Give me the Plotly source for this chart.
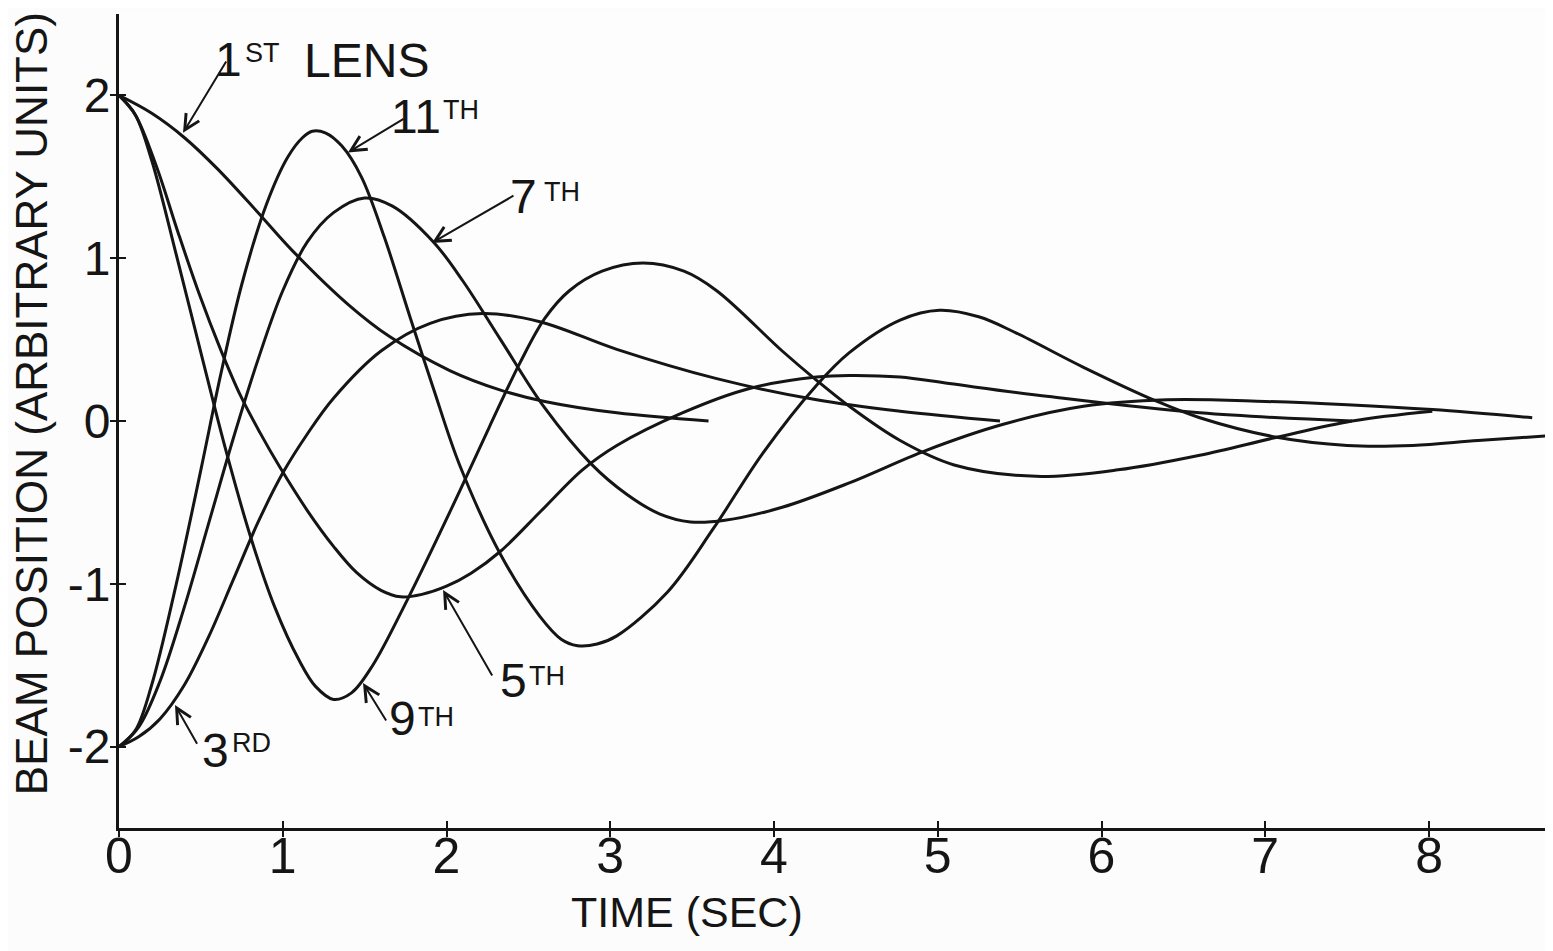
import plotly.graph_objects as go

# ---- data (time in sec, beam position in arbitrary units) ----
lens1_x = [0, 0.2, 0.4, 0.6, 0.84, 1.06, 1.4, 1.65, 2.02, 2.33, 2.6, 3.04, 3.6]
lens1_y = [2.0, 1.89, 1.74, 1.55, 1.29, 1.045, 0.715, 0.52, 0.31, 0.19, 0.12, 0.05, 0.0]

lens3_x = [0, 0.12, 0.25, 0.4, 0.55, 0.7, 0.85, 1.0, 1.15, 1.31, 1.6, 1.9, 2.22, 2.57, 3.04, 3.65, 4.26, 4.77, 5.38]
lens3_y = [-2.0, -1.94, -1.83, -1.62, -1.32, -0.97, -0.62, -0.32, -0.08, 0.14, 0.43, 0.6, 0.66, 0.61, 0.44, 0.26, 0.13, 0.06, 0.0]

lens5_x = [0, 0.1, 0.23, 0.36, 0.49, 0.62, 0.74, 0.86, 0.98, 1.15, 1.31, 1.45, 1.6, 1.72, 1.85, 2.0, 2.15, 2.33,
           2.58, 2.83, 3.04, 3.44, 3.85, 4.26, 4.46, 4.77, 5.07, 5.68, 6.6, 7.53]
lens5_y = [2.0, 1.88, 1.56, 1.16, 0.78, 0.44, 0.16, -0.07, -0.28, -0.55, -0.77, -0.93, -1.04, -1.08, -1.065, -1.015, -0.935, -0.8,
           -0.55, -0.3, -0.15, 0.05, 0.2, 0.27, 0.28, 0.27, 0.23, 0.15, 0.05, 0.0]

lens7_x = [0, 0.12, 0.25, 0.4, 0.55, 0.7, 0.85, 1.0, 1.15, 1.31, 1.5, 1.67, 1.92, 2.1, 2.33, 2.6, 2.88, 3.1, 3.3, 3.49,
           3.7, 4.05, 4.46, 4.93, 5.4, 5.89, 6.4, 7.0, 7.5, 8.02, 8.63]
lens7_y = [-2.0, -1.88, -1.6, -1.14, -0.62, -0.1, 0.38, 0.8, 1.1, 1.28, 1.37, 1.32, 1.1, 0.86, 0.5, 0.08, -0.26, -0.45, -0.57, -0.62,
           -0.61, -0.53, -0.38, -0.18, -0.02, 0.09, 0.13, 0.12, 0.1, 0.07, 0.02]

lens9_x = [0, 0.1, 0.2, 0.35, 0.5, 0.65, 0.8, 0.95, 1.1, 1.2, 1.31, 1.42, 1.55, 1.76, 2.02, 2.26, 2.45, 2.6, 2.75, 2.95,
           3.2, 3.45, 3.65, 4.05, 4.26, 4.46, 4.77, 5.1, 5.6, 6.1, 6.6, 7.07, 7.53, 8.02]
lens9_y = [2.0, 1.88, 1.6, 1.02, 0.42, -0.17, -0.7, -1.14, -1.47, -1.63, -1.71, -1.67, -1.5, -1.1, -0.56, -0.04, 0.36, 0.63, 0.8, 0.92,
           0.97, 0.92, 0.8, 0.43, 0.25, 0.09, -0.12, -0.27, -0.34, -0.3, -0.21, -0.1, 0.0, 0.06]

lens11_x = [0, 0.1, 0.2, 0.35, 0.5, 0.62, 0.75, 0.9, 1.03, 1.12, 1.18, 1.26, 1.36, 1.48, 1.62, 1.78, 1.92, 2.08, 2.33, 2.57,
            2.7, 2.8, 2.92, 3.04, 3.35, 3.63, 3.93, 4.26, 4.46, 4.77, 5.01, 5.25, 5.48, 5.89, 6.34, 6.6, 7.07, 7.5, 7.9, 8.3, 8.75]
lens11_y = [-2.0, -1.9, -1.62, -1.0, -0.3, 0.28, 0.84, 1.33, 1.62, 1.74, 1.78, 1.77, 1.69, 1.5, 1.13, 0.63, 0.2, -0.27, -0.82, -1.2,
            -1.34, -1.38, -1.37, -1.32, -1.05, -0.66, -0.2, 0.22, 0.42, 0.62, 0.68, 0.64, 0.54, 0.33, 0.12, 0.02, -0.1, -0.15, -0.15, -0.12, -0.09]

x_tick_vals = [0, 1, 2, 3, 4, 5, 6, 7, 8]
x_tick_text = ["0", "1", "2", "3", "4", "5", "6", "7", "8"]
y_tick_vals = [-2, -1, 0, 1, 2]
y_tick_text = ["-2", "-1", "0", "1", "2"]

# curve labels: main characters (right-aligned), superscripts (left-aligned), and the word LENS
label_main = ["1", "11", "7", "5", "9", "3"]
label_main_x = [0.757, 1.970, 2.559, 2.495, 1.822, 0.680]
label_main_y = [2.218, 1.868, 1.376, -1.597, -1.825, -2.021]
label_sup = ["ST", "TH", "TH", "TH", "TH", "RD"]
label_sup_x = [0.763, 1.975, 2.590, 2.495, 1.822, 0.686]
label_sup_y = [2.263, 1.913, 1.409, -1.565, -1.817, -1.976]
lens_word = "LENS"
lens_word_x = 1.124
lens_word_y = 2.212

arrow_tail_x = [0.660, 1.747, 2.418, 2.284, 1.637, 0.482]
arrow_tail_y = [2.218, 1.862, 1.389, -1.573, -1.849, -1.991]
arrow_tip_x = [0.391, 1.398, 1.911, 1.979, 1.490, 0.342]
arrow_tip_y = [1.770, 1.650, 1.094, -1.038, -1.610, -1.745]

x_title = "TIME (SEC)"
y_title = "BEAM POSITION (ARBITRARY UNITS)"

FONT = "Liberation Sans, Arial, sans-serif"
INK = "#151515"

fig = go.Figure()
for xs, ys in [(lens1_x, lens1_y), (lens3_x, lens3_y), (lens5_x, lens5_y),
               (lens7_x, lens7_y), (lens9_x, lens9_y), (lens11_x, lens11_y)]:
    fig.add_trace(go.Scatter(x=xs, y=ys, mode="lines",
                             line=dict(color=INK, width=3, shape="spline", smoothing=1.0),
                             showlegend=False, hoverinfo="skip"))
# invisible trace so the overlay axes (inner half of the crossing ticks) are drawn
fig.add_trace(go.Scatter(x=[None], y=[None], xaxis="x2", yaxis="y2", mode="lines",
                         showlegend=False, hoverinfo="skip"))

annotations = []
for t, lx, ly in zip(label_main, label_main_x, label_main_y):
    annotations.append(dict(x=lx, y=ly, xref="x", yref="y", text=t, showarrow=False,
                            xanchor="right", yanchor="middle", borderpad=0,
                            font=dict(family=FONT, size=48, color=INK)))
for t, lx, ly in zip(label_sup, label_sup_x, label_sup_y):
    annotations.append(dict(x=lx, y=ly, xref="x", yref="y", text=t, showarrow=False,
                            xanchor="left", yanchor="middle", borderpad=0,
                            font=dict(family=FONT, size=27, color=INK)))
annotations.append(dict(x=lens_word_x, y=lens_word_y, xref="x", yref="y", text=lens_word,
                        showarrow=False, xanchor="left", yanchor="middle", borderpad=0,
                        font=dict(family=FONT, size=48, color=INK)))
for tx, ty, hx, hy in zip(arrow_tail_x, arrow_tail_y, arrow_tip_x, arrow_tip_y):
    annotations.append(dict(x=hx, y=hy, xref="x", yref="y", ax=tx, ay=ty,
                            axref="x", ayref="y", text="", showarrow=True,
                            arrowhead=5, arrowsize=1.5, arrowwidth=2, arrowcolor=INK))
annotations.append(dict(x=3.466, y=-0.103, xref="x", yref="paper", text=x_title,
                        showarrow=False, xanchor="center", yanchor="middle",
                        font=dict(family=FONT, size=43, color=INK)))
annotations.append(dict(x=-0.0605, y=0.521, xref="paper", yref="paper", text=y_title,
                        showarrow=False, textangle=-90, xanchor="center", yanchor="middle",
                        borderpad=0, font=dict(family=FONT, size=44, color=INK)))

XR = [0, 8.757]
YR = [-2.5, 2.5]
fig.update_layout(
    width=1545, height=943,
    margin=dict(l=111, r=0, t=6, b=123),
    paper_bgcolor="#fcfcfc", plot_bgcolor="#fdfdfd",
    annotations=annotations,
    xaxis=dict(range=XR, showgrid=False, zeroline=False, showline=True,
               linecolor=INK, linewidth=3, ticks="outside", ticklen=6, tickwidth=2,
               tickcolor=INK, tickvals=x_tick_vals, ticktext=x_tick_text,
               ticklabelstandoff=-24,
               tickfont=dict(family=FONT, size=50, color=INK)),
    yaxis=dict(range=YR, showgrid=False, zeroline=False, showline=True,
               linecolor=INK, linewidth=3, ticks="outside", ticklen=6, tickwidth=2,
               tickcolor=INK, tickvals=y_tick_vals, ticktext=y_tick_text,
               ticklabelstandoff=-10,
               tickfont=dict(family=FONT, size=48, color=INK)),
    xaxis2=dict(range=XR, overlaying="x", anchor="y2", side="bottom", showgrid=False,
                zeroline=False, showline=False, ticks="inside", ticklen=7, tickwidth=2,
                tickcolor=INK, tickvals=x_tick_vals[1:], showticklabels=False),
    yaxis2=dict(range=YR, overlaying="y", anchor="x2", side="left", showgrid=False,
                zeroline=False, showline=False, ticks="inside", ticklen=7, tickwidth=2,
                tickcolor=INK, tickvals=y_tick_vals, showticklabels=False),
)

fig.write_html("out.html")
